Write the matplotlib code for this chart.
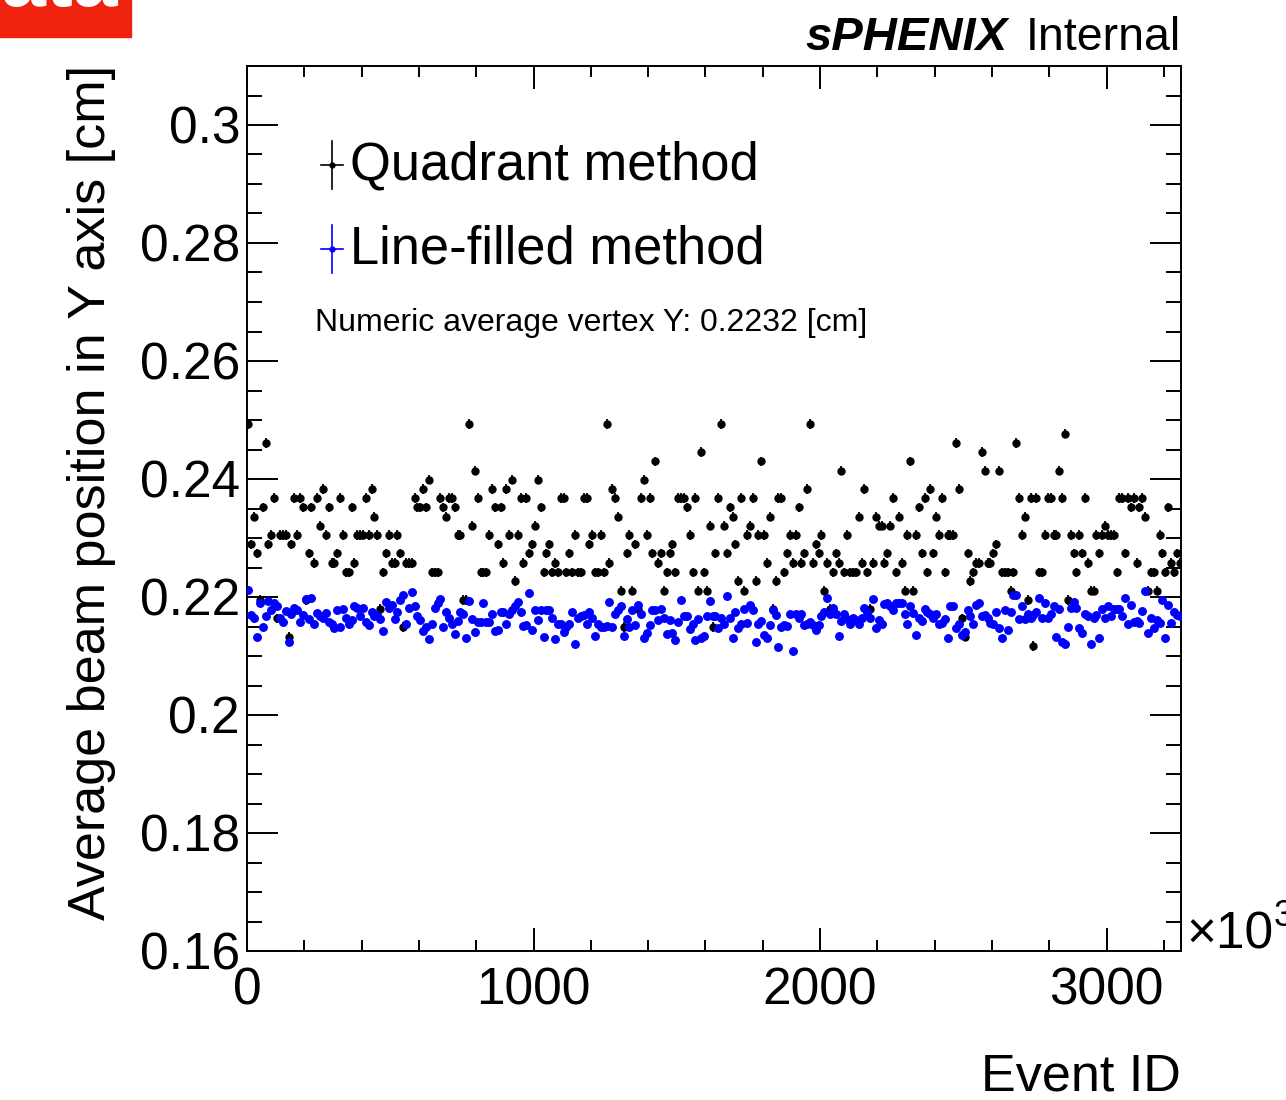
import numpy as np
import matplotlib
matplotlib.use("Agg")
from matplotlib import pyplot as plt
from matplotlib.patches import Rectangle
from matplotlib.ticker import MultipleLocator, FuncFormatter

plt.rcParams['font.family'] = ['Liberation Sans', 'DejaVu Sans']

# event id bins (units of 10^3), 10 per bin
bin_width = 10
n_bins = 326
x_max = 3260

# average Y per bin, quadrant method (black)
quad_y = np.array([
    .2493, .2289, .2336, .2274, .2195, .2352, .2461, .2289, .2305, .2368,
    .2164, .2305, .2305, .2305, .2133, .2289, .2368, .2305, .2368, .2352,
    .2195, .2274, .2352, .2258, .2368, .2321, .2383, .2305, .2352, .2258,
    .2258, .2274, .2368, .2305, .2242, .2242, .2352, .2258, .2305, .2305,
    .2305, .2368, .2305, .2383, .2336, .2305, .2180, .2242, .2274, .2305,
    .2258, .2258, .2305, .2274,
    .2149, .2258, .2258, .2258, .2368, .2352, .2352, .2383, .2352, .2399,
    .2242, .2242, .2242, .2368, .2352, .2336, .2368, .2368, .2352, .2305,
    .2305, .2195, .2195, .2493, .2321, .2414, .2368, .2242, .2242, .2242,
    .2305, .2383, .2352, .2289, .2352, .2258, .2383, .2305, .2399, .2227,
    .2305, .2368, .2258, .2368, .2274, .2289, .2321, .2399, .2352, .2242,
    .2274, .2289, .2242, .2258, .2242,
    .2368, .2368, .2242, .2274, .2242, .2305, .2242, .2242, .2368, .2368,
    .2289, .2305, .2242, .2242, .2305, .2242, .2493, .2258, .2383, .2368,
    .2336, .2211, .2149, .2274, .2305, .2211, .2289, .2180, .2368, .2399,
    .2305, .2368, .2274, .2430, .2258, .2274, .2211, .2242, .2274, .2289,
    .2242, .2368, .2368, .2368, .2352, .2305, .2242, .2368, .2211, .2446,
    .2242, .2211, .2321, .2149, .2274,
    .2368, .2493, .2321, .2274, .2352, .2336, .2289, .2227, .2368, .2211,
    .2305, .2321, .2368, .2227, .2305, .2430, .2305, .2258, .2336, .2180,
    .2227, .2368, .2368, .2242, .2274, .2305, .2258, .2305, .2352, .2258,
    .2274, .2383, .2493, .2258, .2289, .2274, .2305, .2211, .2258, .2180,
    .2242, .2274, .2258, .2414, .2242, .2305, .2242, .2242, .2242, .2336,
    .2258, .2383, .2242, .2180,
    .2258, .2336, .2321, .2321, .2258, .2274, .2321, .2368, .2242, .2336,
    .2258, .2211, .2305, .2430, .2211, .2305, .2352, .2274, .2368, .2242,
    .2383, .2274, .2336, .2305, .2368, .2242, .2305, .2305, .2305, .2461,
    .2383, .2164, .2133, .2274, .2227, .2242, .2258, .2258, .2446, .2414,
    .2258, .2258, .2274, .2289, .2414, .2242, .2242, .2242, .2211, .2242,
    .2461, .2368, .2305, .2336,
    .2195, .2368, .2117, .2368, .2242, .2242, .2305, .2368, .2368, .2305,
    .2305, .2414, .2368, .2477, .2195, .2305, .2274, .2242, .2305, .2274,
    .2368, .2258, .2211, .2211, .2305, .2274, .2305, .2321, .2305, .2305,
    .2305, .2242, .2368, .2368, .2274, .2368, .2352, .2368, .2258, .2352,
    .2368, .2336, .2211, .2242, .2242, .2211, .2305, .2274, .2242, .2352,
    .2258, .2242, .2274, .2258,
])

# average Y per bin, line-filled method (blue)
line_y = np.array([
    .2212, .2169, .2165, .2132, .2190, .2150, .2167, .2194, .2178, .2189,
    .2185, .2164, .2157, .2177, .2123, .2171, .2182, .2178, .2157, .2169,
    .2196, .2162, .2199, .2155, .2173, .2167, .2165, .2173, .2158, .2155,
    .2147, .2178, .2149, .2180, .2164, .2154, .2161, .2184, .2182, .2167,
    .2182, .2158, .2152, .2175, .2167, .2169, .2162, .2142, .2191, .2181,
    .2186, .2163, .2175, .2195,
    .2203, .2155, .2181, .2208, .2184, .2167, .2161, .2143, .2150, .2128,
    .2155, .2181, .2190, .2196, .2150, .2175, .2164, .2155, .2138, .2160,
    .2175, .2172, .2131, .2194, .2162, .2141, .2158, .2157, .2189, .2158,
    .2157, .2172, .2143, .2144, .2175, .2175, .2154, .2172, .2178, .2185,
    .2192, .2175, .2151, .2152, .2206, .2144, .2178, .2161, .2178, .2133,
    .2178, .2178, .2165, .2128, .2155,
    .2155, .2141, .2150, .2155, .2174, .2121, .2164, .2167, .2169, .2155,
    .2175, .2164, .2134, .2155, .2150, .2150, .2151, .2192, .2150, .2171,
    .2178, .2184, .2134, .2162, .2150, .2178, .2152, .2186, .2172, .2130,
    .2139, .2152, .2178, .2178, .2161, .2180, .2165, .2137, .2161, .2139,
    .2127, .2158, .2195, .2168, .2168, .2145, .2154, .2127, .2162, .2131,
    .2134, .2167, .2194, .2167, .2167,
    .2147, .2165, .2155, .2202, .2164, .2130, .2174, .2147, .2155, .2180,
    .2156, .2186, .2178, .2123, .2155, .2160, .2136, .2130, .2152, .2178,
    .2169, .2116, .2150, .2152, .2151, .2171, .2109, .2172, .2164, .2171,
    .2152, .2155, .2158, .2152, .2144, .2152, .2167, .2175, .2199, .2171,
    .2182, .2171, .2134, .2160, .2171, .2162, .2155, .2165, .2161, .2155,
    .2164, .2182, .2175, .2164, .2196,
    .2147, .2161, .2155, .2188, .2190, .2184, .2178, .2189, .2190, .2190,
    .2172, .2154, .2184, .2173, .2136, .2165, .2160, .2179, .2175, .2172,
    .2165, .2171, .2155, .2156, .2162, .2130, .2184, .2184, .2147, .2155,
    .2136, .2141, .2178, .2168, .2154, .2186, .2189, .2167, .2169, .2164,
    .2156, .2155, .2175, .2147, .2130, .2178, .2144, .2175, .2203, .2203,
    .2162, .2184, .2162, .2172,
    .2164, .2169, .2175, .2199, .2165, .2189, .2165, .2172, .2185, .2133,
    .2180, .2124, .2120, .2149, .2182, .2192, .2181, .2147, .2139, .2171,
    .2167, .2120, .2165, .2169, .2130, .2179, .2164, .2185, .2168, .2179,
    .2179, .2179, .2167, .2198, .2154, .2186, .2158, .2160, .2156, .2176,
    .2211, .2139, .2164, .2147, .2161, .2156, .2195, .2130, .2186, .2156,
    .2175, .2169, .2168,
])

quad_err = 0.0008
line_err = 0.0003

legend_labels = ["Quadrant method", "Line-filled method"]
avg_text = "Numeric average vertex Y: 0.2232 [cm]"

event_id = bin_width * (np.arange(n_bins) + 0.5)

W, H = 1286, 1100
fig = plt.figure(figsize=(W / 100, H / 100), dpi=100)
ax = fig.add_axes([247 / W, 1 - 951 / H, (1181 - 247) / W, (951 - 66) / H])

ax.errorbar(event_id, quad_y, yerr=quad_err, fmt='o', color='black',
            ms=5.0, elinewidth=1.3, capsize=0, zorder=2)
ax.errorbar(event_id, line_y, yerr=line_err, fmt='o', color='#0000ff',
            ms=5.4, elinewidth=1.2, capsize=0, zorder=3)

ax.set_xlim(0, x_max)
ax.set_ylim(0.16, 0.31)

ax.xaxis.set_major_locator(MultipleLocator(1000))
ax.xaxis.set_minor_locator(MultipleLocator(200))
ax.yaxis.set_major_locator(MultipleLocator(0.02))
ax.yaxis.set_minor_locator(MultipleLocator(0.005))
ax.yaxis.set_major_formatter(FuncFormatter(lambda v, p: f"{v:g}"))

ax.tick_params(which='both', direction='in', top=True, right=True,
               width=1.4, labelsize=37)
ax.tick_params(axis='x', which='major', length=16.5, pad=11)
ax.tick_params(axis='x', which='minor', length=8)
ax.tick_params(axis='y', which='major', length=22, pad=5)
ax.tick_params(axis='y', which='minor', length=11)
for s in ax.spines.values():
    s.set_linewidth(1.4)

# legend drawn by hand, ROOT style
legend_colors = ['black', '#0000ff']
legend_y = [0.888, 0.793]
gx = 0.091
for lab, col, ly in zip(legend_labels, legend_colors, legend_y):
    ax.plot([gx, gx], [ly - 0.027, ly + 0.027], color=col, lw=1.2,
            transform=ax.transAxes, clip_on=False)
    ax.plot([gx - 0.012, gx + 0.012], [ly, ly], color=col, lw=1.2,
            transform=ax.transAxes, clip_on=False)
    ax.plot([gx], [ly], 'o', color=col, ms=3.5, transform=ax.transAxes)
    ax.text(0.110, ly, lab, transform=ax.transAxes, fontsize=37.8,
            ha='left', va='center')

ax.text(0.0728, 0.7096, avg_text, transform=ax.transAxes, fontsize=23,
        ha='left', va='center')

fig.text(92 / W, 1 - 65 / H, "Average beam position in Y axis [cm]",
         rotation=90, rotation_mode='anchor', ha='right', va='center',
         fontsize=37.5)
fig.text(1181 / W, 1 - 1077 / H, "Event ID", ha='right', va='center',
         fontsize=37.5)
fig.text(1186 / W, 1 - 935 / H, "\u00d710", ha='left', va='center',
         fontsize=37)
fig.text(1274 / W, 1 - 916 / H, "3", ha='left', va='center', fontsize=26)

fig.text(1008 / W, 1 - 38 / H, "sPHENIX", ha='right', va='center',
         fontsize=34, fontweight='bold', fontstyle='italic')
fig.text(1181 / W, 1 - 38 / H, "Internal", ha='right', va='center',
         fontsize=33.5)

# cut-off red badge in the corner
fig.patches.append(Rectangle((0, 1 - 37 / H), 131 / W, 60 / H,
                             transform=fig.transFigure, color='#ee220f',
                             zorder=5))
fig.text(118 / W, 1 - 6 / H, "Data", ha='right', va='baseline',
         fontsize=58, fontweight='bold', color='white', zorder=6)

fig.savefig("out.png", dpi=100)
